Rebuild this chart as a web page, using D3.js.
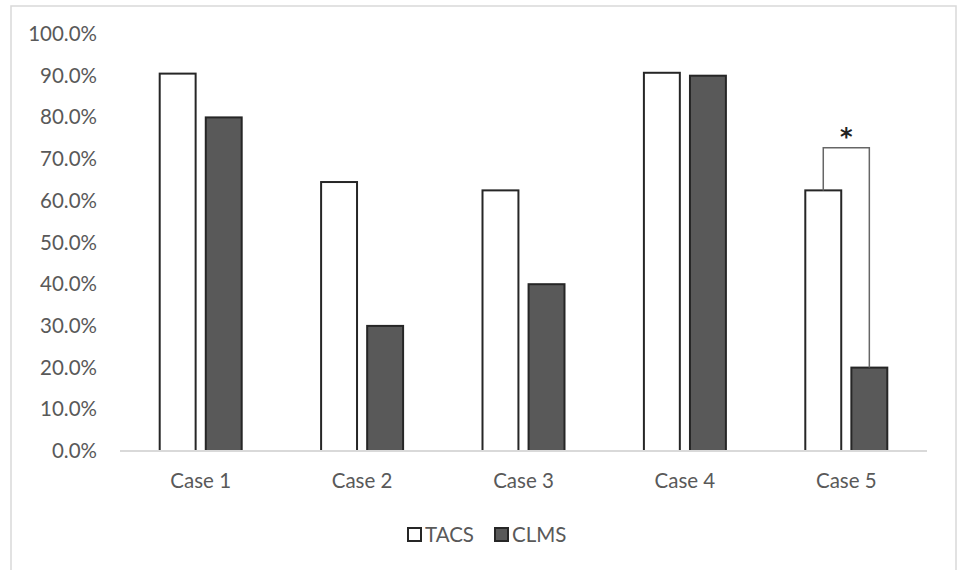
<!DOCTYPE html>
<html>
<head>
<meta charset="utf-8">
<script src="https://cdn.jsdelivr.net/npm/d3@7"></script>
<style>
  body { margin: 0; background: #fff; }
  svg { display: block; }
</style>
</head>
<body>
<div id="container"></div>
<script>
/* DATA */
const categories = ["Case 1", "Case 2", "Case 3", "Case 4", "Case 5"];
const seriesNames = ["TACS", "CLMS"];
const tacs = [0.905, 0.645, 0.625, 0.907, 0.625];
const clms = [0.80, 0.30, 0.40, 0.90, 0.20];
const yTicks = [0, 0.1, 0.2, 0.3, 0.4, 0.5, 0.6, 0.7, 0.8, 0.9, 1.0];
// significance bracket: category, bracket height, label
const sigCase = "Case 5";
const sigLevel = 0.727;
const sigLabel = "*";

/* CONSTANTS */
const width = 958,
  height = 570,
  margin = ({top: 34, right: 31, bottom: 119, left: 120});

const textColor = "#595959";
const fontSize = 20.5;
const fills = {TACS: "#ffffff", CLMS: "#595959"};

const svg = d3.select("#container")
  .append("svg")
  .attr("width", width)
  .attr("height", height)
  .attr("font-family", "Lato, sans-serif");

// chart frame
svg.append("rect")
  .attr("x", 11)
  .attr("y", 6)
  .attr("width", 945)
  .attr("height", 600)
  .attr("fill", "none")
  .attr("stroke", "#d9d9d9")
  .attr("stroke-width", 1.5);

const x = d3.scaleBand()
  .domain(categories)
  .range([margin.left, width - margin.right]);

const xInner = d3.scaleBand()
  .domain(seriesNames)
  .range([0, 82])
  .paddingInner(0.22);

const y = d3.scaleLinear()
  .domain([0, 1])
  .range([height - margin.bottom, margin.top]);

const rows = categories.map((c, i) => ({cat: c, TACS: tacs[i], CLMS: clms[i]}));

// y axis labels (no line)
const yAxis = svg.append("g")
  .attr("transform", `translate(${margin.left - 23},0)`)
  .call(d3.axisLeft(y).tickValues(yTicks).tickFormat(d3.format(".1%")).tickSize(0).tickPadding(0))
  .call(g => g.select(".domain").remove());
yAxis.selectAll("text")
  .attr("fill", textColor)
  .attr("font-size", fontSize)
  .attr("font-family", "Lato, sans-serif");

// bars
const groups = svg.append("g")
  .selectAll("g")
  .data(rows)
  .join("g")
  .attr("transform", d => `translate(${x(d.cat) + (x.bandwidth() - 82) / 2},0)`);

groups.selectAll("rect")
  .data(d => seriesNames.map(s => ({key: s, value: d[s]})))
  .join("rect")
  .attr("x", d => xInner(d.key))
  .attr("y", d => y(d.value))
  .attr("width", xInner.bandwidth())
  .attr("height", d => y(0) - y(d.value))
  .attr("fill", d => fills[d.key])
  .attr("stroke", "#262626")
  .attr("stroke-width", 2);

// baseline
svg.append("line")
  .attr("x1", margin.left)
  .attr("x2", width - margin.right)
  .attr("y1", y(0))
  .attr("y2", y(0))
  .attr("stroke", "#d9d9d9")
  .attr("stroke-width", 2);

// x axis labels
const xAxis = svg.append("g")
  .attr("transform", `translate(0,${y(0)})`)
  .call(d3.axisBottom(x).tickSize(0).tickPadding(22))
  .call(g => g.select(".domain").remove());
xAxis.selectAll("text")
  .attr("fill", textColor)
  .attr("font-size", fontSize)
  .attr("font-family", "Lato, sans-serif");

// significance bracket
const si = categories.indexOf(sigCase);
const gx = x(sigCase) + (x.bandwidth() - 82) / 2;
const xa = gx + xInner("TACS") + xInner.bandwidth() / 2;
const xb = gx + xInner("CLMS") + xInner.bandwidth() / 2;
svg.append("path")
  .attr("d", `M${xa},${y(tacs[si])}V${y(sigLevel)}H${xb}V${y(clms[si])}`)
  .attr("fill", "none")
  .attr("stroke", "#666")
  .attr("stroke-width", 1.5);
svg.append("text")
  .attr("x", (xa + xb) / 2)
  .attr("y", y(sigLevel) - 3)
  .attr("text-anchor", "middle")
  .attr("font-size", 24)
  .attr("font-weight", "bold")
  .attr("font-family", "DejaVu Sans, sans-serif")
  .attr("fill", "#222")
  .text(sigLabel);

// legend
const legendX = [408, 495];
const legend = svg.append("g")
  .selectAll("g")
  .data(seriesNames)
  .join("g")
  .attr("transform", (d, i) => `translate(${legendX[i]},528)`);
legend.append("rect")
  .attr("width", 13)
  .attr("height", 13)
  .attr("fill", d => fills[d])
  .attr("stroke", "#262626")
  .attr("stroke-width", 2);
legend.append("text")
  .attr("x", 17)
  .attr("y", 7)
  .attr("dy", "0.35em")
  .attr("font-size", fontSize)
  .attr("fill", textColor)
  .text(d => d);
</script>
</body>
</html>
